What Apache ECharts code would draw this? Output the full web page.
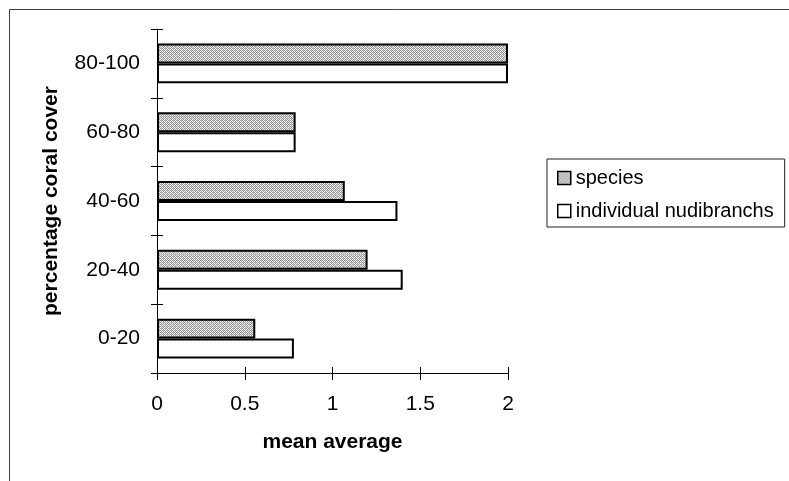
<!DOCTYPE html>
<html>
<head>
<meta charset="utf-8">
<script src="https://cdn.jsdelivr.net/npm/echarts@6/dist/echarts.min.js"></script>
<style>
  html, body { margin: 0; padding: 0; background: #fff; }
  #chart { width: 789px; height: 481px; }
</style>
</head>
<body>
<div id="chart"></div>
<script>
// Coral cover bands (bottom to top) and mean counts per band
const coverBands = ['0-20', '20-40', '40-60', '60-80', '80-100'];
const speciesMean = [0.56, 1.2, 1.07, 0.79, 2.0];
const individualMean = [0.78, 1.4, 1.37, 0.79, 2.0];
const valueTicks = [0, 0.5, 1, 1.5, 2];

const FONT = '"Liberation Sans", Arial, sans-serif';

// Fine grey dither used to fill the "species" bars
function makeHatch() {
  const c = document.createElement('canvas');
  c.width = 4; c.height = 4;
  const ctx = c.getContext('2d');
  ctx.fillStyle = '#f4f4f4';
  ctx.fillRect(0, 0, 4, 4);
  ctx.fillStyle = '#9a9a9a';
  for (let y = 0; y < 4; y++) {
    for (let x = 0; x < 4; x++) {
      if ((x + y) % 2 === 0) ctx.fillRect(x, y, 1, 1);
    }
  }
  ctx.fillStyle = '#c4c4c4';
  ctx.fillRect(1, 0, 1, 1);
  ctx.fillRect(3, 2, 1, 1);
  return c;
}
const hatch = { image: makeHatch(), repeat: 'repeat' };

const chart = echarts.init(document.getElementById('chart'), null, { renderer: 'canvas' });

const valueMin = valueTicks[0];
const valueMax = valueTicks[valueTicks.length - 1];
const valueStep = valueTicks[1] - valueTicks[0];

chart.setOption({
  backgroundColor: '#fff',
  animation: false,
  textStyle: { fontFamily: FONT },
  graphic: [{
    type: 'rect',
    shape: { x: 9.5, y: 9.5, width: 900, height: 600 },
    style: { fill: 'none', stroke: '#404040', lineWidth: 1 },
    silent: true,
    z: -10
  }],
  grid: { left: 157, right: 281, top: 29, bottom: 108, containLabel: false },
  legend: {
    orient: 'vertical',
    left: 547,
    top: 159,
    padding: [9, 11, 6, 10],
    borderColor: '#222',
    borderWidth: 1,
    itemWidth: 13,
    itemHeight: 13,
    itemGap: 13,
    itemTextGap: 6,
    textStyle: { fontFamily: FONT, fontSize: 20, color: '#000', lineHeight: 20 },
    data: [
      { name: 'species', icon: 'rect', itemStyle: { color: hatch, borderColor: '#000', borderWidth: 1.5 } },
      { name: 'individual nudibranchs', icon: 'rect', itemStyle: { color: '#fff', borderColor: '#000', borderWidth: 1.5 } }
    ]
  },
  xAxis: [{
    type: 'value',
    position: 'bottom',
    min: valueMin,
    max: valueMax,
    interval: valueStep,
    name: 'mean average',
    nameLocation: 'middle',
    nameGap: 59,
    nameTextStyle: { fontFamily: FONT, fontSize: 21, fontWeight: 'bold', color: '#000' },
    axisLine: { show: true, lineStyle: { color: '#000', width: 1 } },
    axisTick: { show: true, inside: false, length: 7, lineStyle: { color: '#000' } },
    axisLabel: { fontFamily: FONT, fontSize: 21, color: '#000', margin: 21 },
    splitLine: { show: false }
  }, {
    type: 'value',
    position: 'bottom',
    min: valueMin,
    max: valueMax,
    interval: valueStep,
    axisLine: { show: false },
    axisTick: { show: true, inside: true, length: 6, lineStyle: { color: '#000' } },
    axisLabel: { show: false },
    splitLine: { show: false }
  }],
  yAxis: [{
    type: 'category',
    data: coverBands,
    position: 'left',
    name: 'percentage coral cover',
    nameLocation: 'middle',
    nameGap: 95,
    nameTextStyle: { fontFamily: FONT, fontSize: 21, fontWeight: 'bold', color: '#000' },
    axisLine: { show: true, lineStyle: { color: '#000', width: 1 } },
    axisTick: { show: true, inside: false, length: 6, lineStyle: { color: '#000' } },
    axisLabel: { fontFamily: FONT, fontSize: 21, color: '#000', margin: 17 },
    splitLine: { show: false }
  }, {
    type: 'category',
    data: coverBands,
    position: 'left',
    axisLine: { show: false },
    axisTick: { show: true, inside: true, length: 6, lineStyle: { color: '#000' } },
    axisLabel: { show: false },
    splitLine: { show: false }
  }],
  series: [{
    name: 'species',
    type: 'bar',
    xAxisIndex: 0,
    yAxisIndex: 0,
    data: speciesMean,
    barGap: '0%',
    barCategoryGap: '42%',
    itemStyle: { color: hatch, borderColor: '#000', borderWidth: 2 }
  }, {
    name: 'individual nudibranchs',
    type: 'bar',
    xAxisIndex: 0,
    yAxisIndex: 0,
    data: individualMean,
    barGap: '0%',
    barCategoryGap: '42%',
    itemStyle: { color: '#fff', borderColor: '#000', borderWidth: 2 }
  }]
});
</script>
</body>
</html>
